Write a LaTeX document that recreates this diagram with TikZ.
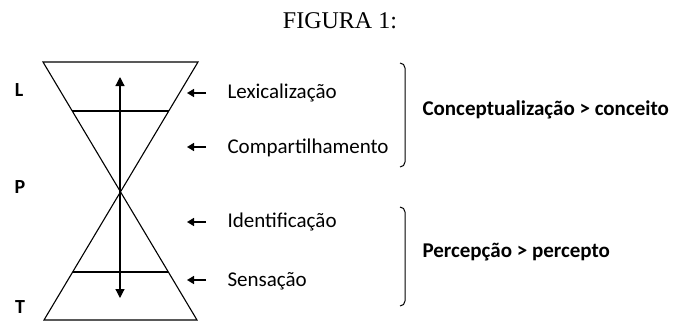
\documentclass[tikz,border=0pt]{standalone}
\usepackage{fontspec}
\setmainfont{Liberation Serif}
\newfontfamily\carl{Carlito}
\usetikzlibrary{arrows.meta}
\begin{document}
\begin{tikzpicture}[x=1pt,y=-1pt, line width=1.1pt, line join=miter,
  lbl/.style={font=\carl\fontsize{21}{24}\selectfont, anchor=base west, inner sep=0pt},
  grp/.style={font=\carl\bfseries\fontsize{21}{24}\selectfont, anchor=base west, inner sep=0pt},
  lvl/.style={font=\carl\bfseries\fontsize{20}{22}\selectfont, anchor=base, inner sep=0pt},
  ptr/.style={-{Triangle[length=7pt,width=8pt]}, line width=1.6pt},
  axis/.style={{Triangle[length=9pt,width=9pt]}-{Triangle[length=9pt,width=9pt]}, line width=1.2pt},
  brk/.style={line width=1pt}]
\useasboundingbox (0,0) rectangle (673,322);
\node[font=\fontsize{24}{28}\selectfont, anchor=base, inner sep=0pt] (title) at (340,28) {FIGURA 1:};
% hourglass
\draw (43,62) -- (198,62) -- (44,320) -- (197,320) -- cycle;
\draw (72,111) -- (168.6,111);
\draw (72.5,272) -- (168,272);
\coordinate (atop) at (120,77);
\coordinate (abot) at (120,298);
\draw[axis] (atop) -- (abot);
% level labels
\node[lvl] (L) at (19,96) {L};
\node[lvl] (P) at (20,193) {P};
\node[lvl] (T) at (20,313) {T};
% stage labels and arrows
\node[lbl] (lex) at (227,98) {Lexicalização};
\node[lbl] (com) at (227,153) {Compartilhamento};
\node[lbl] (ide) at (227,227) {Identificação};
\node[lbl] (sen) at (227,286) {Sensação};
\foreach \n/\y in {lex/93,com/147,ide/222,sen/280}{
  \coordinate (\n s) at (206,\y);
  \coordinate (\n e) at (187,\y);
  \draw[ptr] (\n s) -- (\n e);
}
% brackets
\draw[brk] (400,63) to[out=0,in=90] (405,68) -- (405,162) to[out=-90,in=0] (400,167);
\draw[brk] (400,207) to[out=0,in=90] (405,212) -- (405,301) to[out=-90,in=0] (400,306);
\node[grp] (conc) at (422,115) {Conceptualização > conceito};
\node[grp] (perc) at (422,257) {Percepção > percepto};
\end{tikzpicture}
\end{document}
